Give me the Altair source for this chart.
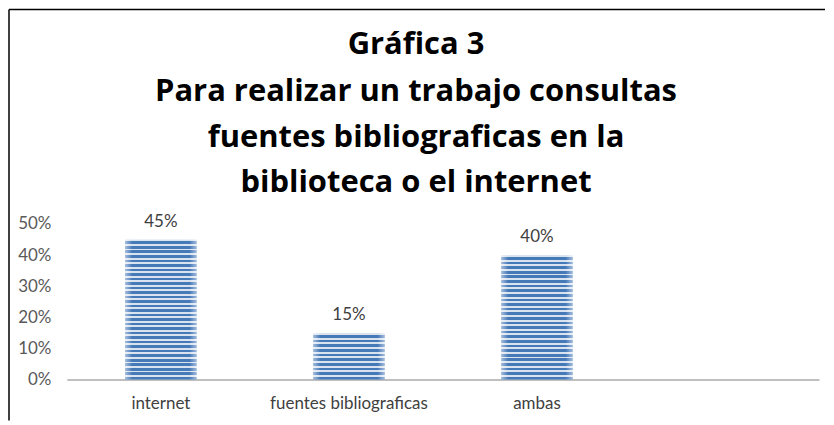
import altair as alt
import pandas as pd

# ---- data ----
categories = ["internet", "fuentes bibliograficas", "ambas"]
values = [0.45, 0.15, 0.40]
labels = ["45%", "15%", "40%"]
axis_domain = categories + [" "]
y_ticks = [0, 0.1, 0.2, 0.3, 0.4, 0.5]
title_lines = [
    "Gráfica 3",
    "Para realizar un trabajo consultas",
    "fuentes bibliograficas en la",
    "biblioteca o el internet",
]

df = pd.DataFrame({"cat": categories, "val": values, "lab": labels})

W, H = 754, 156
DARK = "#4679b8"
LIGHT = "#d9e3f0"
PERIOD = 4.6  # px per stripe


def stripes(frac):
    n = max(1, round(frac / 0.5 * H / PERIOD))
    stops = []
    for i in range(n):
        a = i / n
        b = (i + 0.42) / n
        c = (i + 1) / n
        stops += [
            alt.GradientStop(offset=a, color=LIGHT),
            alt.GradientStop(offset=b, color=LIGHT),
            alt.GradientStop(offset=b, color=DARK),
            alt.GradientStop(offset=c, color=DARK),
        ]
    return alt.LinearGradient(gradient="linear", stops=stops, x1=0, y1=0, x2=0, y2=1)


edge_shade = alt.LinearGradient(
    gradient="linear",
    stops=[
        alt.GradientStop(offset=0, color="rgba(255,255,255,0.5)"),
        alt.GradientStop(offset=0.1, color="rgba(255,255,255,0)"),
        alt.GradientStop(offset=0.9, color="rgba(255,255,255,0)"),
        alt.GradientStop(offset=1, color="rgba(255,255,255,0.5)"),
    ],
    x1=0, y1=0, x2=1, y2=0,
)

LABEL_FONT = "Lato"
LABEL_SIZE = 17

xenc = alt.X(
    "cat:N",
    scale=alt.Scale(domain=axis_domain, paddingInner=0.62, paddingOuter=0.31),
    sort=axis_domain,
    axis=alt.Axis(
        title=None, labelAngle=0, ticks=False, domainColor="#bfbfbf", domainWidth=2,
        labelFont=LABEL_FONT, labelFontSize=LABEL_SIZE, labelColor="#404040", labelPadding=16,
    ),
)
yenc = alt.Y(
    "val:Q",
    scale=alt.Scale(domain=[0, 0.5]),
    axis=alt.Axis(
        title=None, values=y_ticks, format=".0%", grid=False, domain=False, ticks=False,
        labelFont=LABEL_FONT, labelFontSize=LABEL_SIZE, labelColor="#595959", labelPadding=16,
    ),
)

base = alt.Chart(df)
layers = []
for c, v in zip(categories, values):
    layers.append(
        base.transform_filter(alt.datum.cat == c)
        .mark_bar(fill=stripes(v))
        .encode(x=xenc, y=yenc)
    )
shade = base.mark_bar(fill=edge_shade).encode(x=xenc, y=yenc)
text = base.mark_text(dy=-18, font=LABEL_FONT, fontSize=LABEL_SIZE, color="#404040").encode(
    x=xenc, y=yenc, text="lab:N"
)

one = alt.Chart(pd.DataFrame({"a": [0]}))
top_border = one.mark_rule(color="black", strokeWidth=1.5).encode(
    x=alt.value(-58), x2=alt.value(W + 6), y=alt.value(-215)
)
left_border = one.mark_rule(color="black", strokeWidth=1.5).encode(
    x=alt.value(-58), y=alt.value(-215), y2=alt.value(H + 41)
)

title_y = [-179, -132, -86, -41]
title_layers = [
    one.mark_text(
        text=line, font="Open Sans", fontSize=31, fontWeight="bold", color="black",
        align="center", baseline="middle",
    ).encode(x=alt.value(350), y=alt.value(ty))
    for line, ty in zip(title_lines, title_y)
]

chart = (
    alt.layer(*layers, shade, text, top_border, left_border, *title_layers)
    .properties(width=W, height=H, padding=0)
    .configure_view(stroke=None)
)

chart.save("out.html", embed_options={"renderer": "svg", "actions": False})
